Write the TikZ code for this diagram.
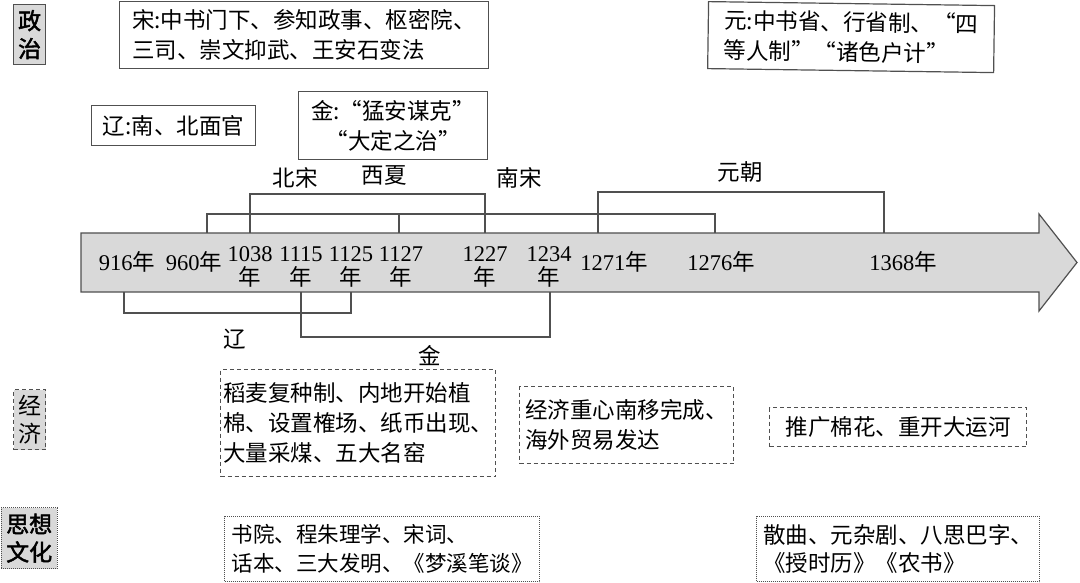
\documentclass[tikz,border=0pt]{standalone}
\usepackage{fontspec}
\setmainfont{Liberation Serif}
\newfontfamily\cjk{Noto Sans CJK SC}[AutoFakeBold=2]
\usepackage{tikz}
\definecolor{tlgray}{RGB}{217,217,217}
\definecolor{lnkgray}{RGB}{80,80,80}

\begin{document}
\begin{tikzpicture}[x=1pt, y=-1pt,
    lbl/.style={font=\fontsize{22.5}{28}\selectfont\cjk, inner sep=0pt},
    datelbl/.style={font=\fontsize{22.5}{24}\selectfont, inner sep=0pt},
    infobox/.style={draw=lnkgray, line width=1.2pt, anchor=north west, align=left,
        inner sep=0pt, font=\fontsize{22.5}{30}\selectfont\cjk},
    dashbox/.style={infobox, dash pattern=on 4pt off 3pt},
    dotbox/.style={infobox, dash pattern=on 1pt off 1pt},
    tagbox/.style={infobox, fill=tlgray, align=center, font=\fontsize{23}{28}\selectfont\cjk},
    period/.style={draw=lnkgray, line width=1.2pt}]
    \useasboundingbox (0,0) rectangle (1080,583);

    % Timeline axis
    \draw[draw=lnkgray, fill=tlgray, line width=1.2pt]
        (81,233) -- (1039,233) -- (1039,214) -- (1077,262.5) -- (1039,311) -- (1039,292) -- (81,292) -- cycle;

    % Years on the axis
    \foreach \yr/\xx in {916/127, 960/194, 1271/614, 1276/721, 1368/903}
        \node[datelbl] (y\yr) at (\xx,262) {\yr{\cjk 年}};
    \foreach \yr/\xx in {1038/250, 1115/301, 1125/351, 1127/401, 1227/485, 1234/549}
        \node[datelbl, align=center] (y\yr) at (\xx,267) {\yr\\{\cjk 年}};

    % Bracket ends on the axis
    \foreach \yr/\xx in {960/207, 1038/250, 1127/399, 1227/485, 1271/598, 1276/715, 1368/884}
        \coordinate (t\yr) at (\xx,233);
    \foreach \yr/\xx in {916/124, 1115/301, 1125/351, 1234/550}
        \coordinate (b\yr) at (\xx,292);

    % Dynasties above and below
    \draw[period] (t960) -- ++(0,-19) -| (t1127);
    \draw[period] (t1127) -- ++(0,-19) -| (t1276);
    \draw[period] (t1038) -- ++(0,-39) -| (t1227);
    \draw[period] (t1271) -- ++(0,-41) -| (t1368);
    \draw[period] (b916) -- ++(0,21) -| (b1125);
    \draw[period] (b1115) -- ++(0,45) -| (b1234);

    \node[lbl] (beisong) at (295,178) {北宋};
    \node[lbl] (xixia) at (384,175) {西夏};
    \node[lbl] (nansong) at (519,178) {南宋};
    \node[lbl] (yuanchao) at (740,172) {元朝};
    \node[lbl] (liao) at (235,339) {辽};
    \node[lbl] (jin) at (430,356) {金};

    % Politics
    \node[tagbox, minimum width=32, minimum height=60,
        font=\fontsize{23}{28}\selectfont\cjk\bfseries] (zhengzhi) at (13,4) {政\\治};
    \node[infobox, minimum width=369, minimum height=67] (songzz) at (119,1)
        {宋:中书门下、参知政事、枢密院、\\三司、崇文抑武、王安石变法};
    \node[infobox, minimum width=164, minimum height=40] (liaozz) at (91,105) {辽:南、北面官};
    \node[infobox, align=center, minimum width=189, minimum height=68] (jinzz) at (298,91)
        {金:“猛安谋克”\\“大定之治”};
    \node[infobox, rotate=-0.8, minimum width=286, minimum height=67] (yuanzz) at (708,1)
        {元:中书省、行省制、“四\\等人制”“诸色户计”};

    % Economy
    \node[tagbox, dash pattern=on 4pt off 3pt, minimum width=32, minimum height=60] (jingji) at (13,389) {经\\济};
    \node[dashbox, minimum width=275, minimum height=107] (songjj) at (220,369)
        {稻麦复种制、内地开始植\\棉、设置榷场、纸币出现、\\大量采煤、五大名窑};
    \node[dashbox, minimum width=214, minimum height=77] (nanjj) at (519,386)
        {经济重心南移完成、\\海外贸易发达};
    \node[dashbox, minimum width=257, minimum height=39] (yuanjj) at (769,407)
        {推广棉花、重开大运河};

    % Thought and culture
    \node[tagbox, dash pattern=on 1pt off 1pt, minimum width=56, minimum height=61,
        font=\fontsize{23}{28}\selectfont\cjk\bfseries] (sixiang) at (0.6,507) {思想\\文化};
    \node[dotbox, minimum width=315, minimum height=65,
        font=\fontsize{21.5}{29}\selectfont\cjk] (songwh) at (224,516)
        {书院、程朱理学、宋词、\\话本、三大发明、《梦溪笔谈》};
    \node[dotbox, minimum width=283, minimum height=65, font=\fontsize{22.5}{28}\selectfont\cjk] (yuanwh) at (756,516)
        {散曲、元杂剧、八思巴字、\\《授时历》《农书》};
\end{tikzpicture}
\end{document}
